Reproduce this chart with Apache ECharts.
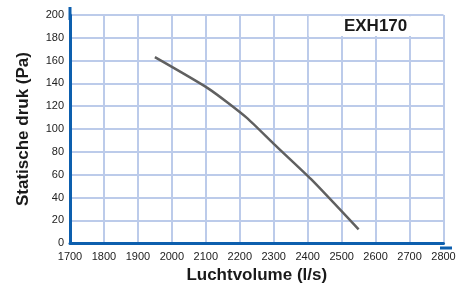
<!DOCTYPE html>
<html lang="nl">
<head>
    <meta charset="UTF-8">
    <title>EXH170</title>
    <script src="https://cdn.jsdelivr.net/npm/echarts@6/dist/echarts.min.js"></script>
    <style>
        html, body { margin: 0; padding: 0; background: #fff; }
    </style>
</head>
<body>
    <div id="main" style="width: 468px;height:289px;"></div>
    <script type="text/javascript">

        // fan curve
        var flow = [1950, 2110, 2220, 2300, 2410, 2550];
        var pressure = [163, 135, 110, 87, 56, 12];
        var modelName = 'EXH170';

        var chartDom = document.getElementById('main');
        var myChart = echarts.init(chartDom);

        var curve = flow.map(function (f, i) { return [f, pressure[i]]; });

        var gridColor = '#bccbea';
        var axisBlue = '#0d5fae';
        var font = '"Liberation Sans", Arial, sans-serif';

        var option = {
            animation: false,
            grid: {
                left: 70,
                top: 15,
                width: 373.5,
                height: 233
            },
            xAxis: {
                type: 'value',
                min: 1700,
                max: 2800,
                interval: 100,
                name: 'Luchtvolume (l/s)',
                nameLocation: 'middle',
                nameGap: 23,
                nameTextStyle: { fontFamily: font, fontWeight: 'bold', fontSize: 17, color: '#1a1a1a' },
                axisLine: { show: true, lineStyle: { color: axisBlue, width: 3 } },
                axisTick: { show: false },
                axisLabel: {
                    fontFamily: font, fontSize: 11, color: '#222', margin: 8,
                    formatter: function (v) { return String(v); }
                },
                splitLine: { show: true, lineStyle: { color: gridColor, width: 2 } }
            },
            yAxis: {
                type: 'value',
                min: 0,
                max: 200,
                interval: 20,
                name: 'Statische druk (Pa)',
                nameLocation: 'middle',
                nameGap: 38,
                nameTextStyle: { fontFamily: font, fontWeight: 'bold', fontSize: 17, color: '#1a1a1a' },
                axisLine: { show: true, lineStyle: { color: axisBlue, width: 3 } },
                axisTick: { show: false },
                axisLabel: { fontFamily: font, fontSize: 11, color: '#222', margin: 6 },
                splitLine: { show: true, lineStyle: { color: gridColor, width: 2 } }
            },
            graphic: [
                // axis line extensions
                { type: 'line', shape: { x1: 440, y1: 248, x2: 452, y2: 248 }, style: { stroke: axisBlue, lineWidth: 3 } },
                { type: 'line', shape: { x1: 70, y1: 7, x2: 70, y2: 20 }, style: { stroke: axisBlue, lineWidth: 3 } }
            ],
            series: [{
                type: 'line',
                data: curve,
                smooth: 0.2,
                showSymbol: false,
                lineStyle: { color: '#606060', width: 2.5 },
                markArea: {
                    silent: true,
                    itemStyle: { color: '#fff' },
                    label: {
                        show: true,
                        position: 'inside',
                        fontFamily: font,
                        fontWeight: 'bold',
                        fontSize: 17,
                        color: '#1a1a1a'
                    },
                    data: [[
                        { name: modelName, coord: [2403, 181.5] },
                        { coord: [2797, 199] }
                    ]]
                },
                z: 3
            }]
        };

        myChart.setOption(option);

    </script>
</body>
</html>
